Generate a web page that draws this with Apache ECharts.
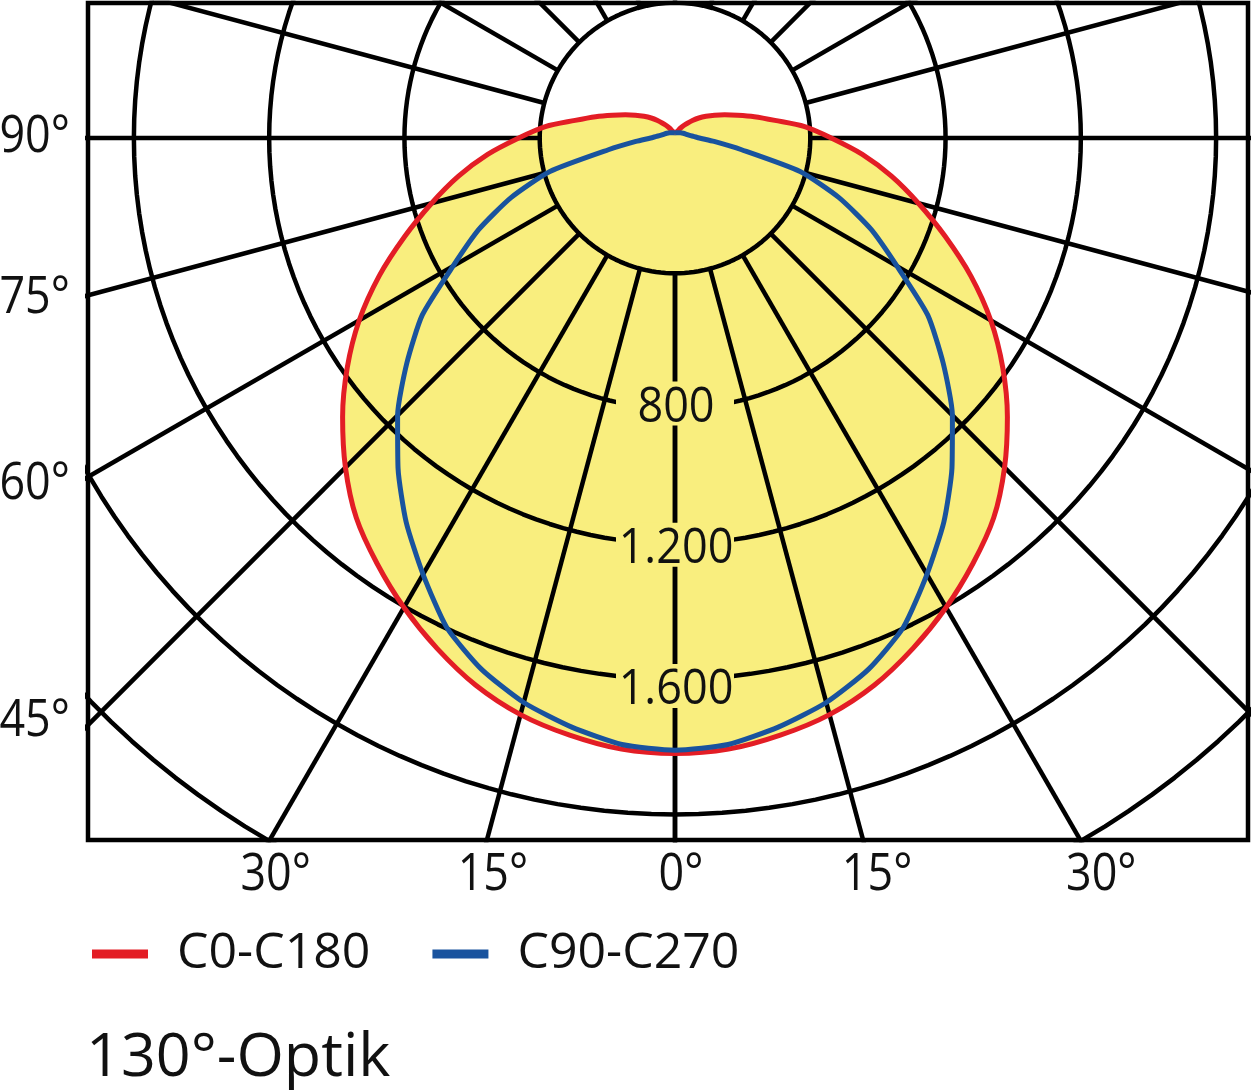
<!DOCTYPE html>
<html><head><meta charset="utf-8">
<script src="https://cdn.jsdelivr.net/npm/echarts@6/dist/echarts.min.js"></script>
<style>html,body{margin:0;padding:0;background:#fff}#c{width:1252px;height:1092px}</style>
</head><body><div id="c"></div>
<script>
// ---------------- data (candela, angle in degrees from nadir) ----------------
const RED_ANGLES  = [0,5,10,15,20,25,30,35,40,45,50,55,60,65,70,75,80,85,90,95,100,105,110,115,120,125,130,135,140,145,150,155,160,170,180];
const RED_VALUES  = [1820,1814,1793,1765,1722,1665,1603,1536,1466,1378,1283,1183,1078,965,850,745,650,556,462,385,300,243,197,162,135,112,92,73,57,45,35,27,22,17,16];
const BLUE_ANGLES = [0,5,10,15,20,25,30,35,40,45,50,55,60,65,70,75,80,85,90,95,100,110,120,135,150,165,180];
const BLUE_VALUES = [1810,1800,1768,1728,1672,1597,1490,1386,1274,1160,1035,912,758,640,516,383,200,116,72,55,44,34,28,22,18,16,15];
const RING_VALUES = [400,800,1200,1600,2000,2400];
const RING_LABEL_VALUES = [800,1200,1600];
const RING_LABELS = ['800','1.200','1.600'];
const SPOKE_ANGLES = [0,15,30,45,60,75,90,105,120,135,150,165,180];
const SIDE_TICKS = [90,75,60,45];
const SIDE_TICK_LABELS = ['90°','75°','60°','45°'];
const BOTTOM_TICKS = [-30,-15,0,15,30];
const BOTTOM_TICK_LABELS = ['30°','15°','0°','15°','30°'];
const SERIES_NAMES = ['C0-C180','C90-C270'];
const TITLE = '130°-Optik';

// ---------------- layout / style ----------------
const PLOT = {left:88, top:3, right:1248, bottom:840};
const CX = 675, CY = 138;      // pole of the diagram (px)
const K = 0.3382;              // px per cd
const XMIN = -(CX-PLOT.left)/K, XMAX = (PLOT.right-CX)/K;
const YMAX = (CY-PLOT.top)/K,  YMIN = -(PLOT.bottom-CY)/K;
const FONT = '"Open Sans", "Noto Sans", sans-serif';
const YELLOW = '#F9EE7E', RED = '#E31D25', BLUE = '#19539E', INK = '#111111';
const GRID_W = 4.5, CURVE_W = 5;
const RING_LABEL_SHIFT = [-5, 1, 7];
const SIDE_LABEL_DY = [-1, 3, 8, -4];
const BOTTOM_LABEL_DX = [6, 6, 6, 14, 21];

function polar(a, v, side){ const r = a*Math.PI/180; return [side*v*Math.sin(r), -v*Math.cos(r)]; }
function loop(angles, values){
  const pts = [];
  for (let i = angles.length-1; i >= 0; i--) pts.push(polar(angles[i], values[i], -1));
  for (let i = 1; i < angles.length; i++) pts.push(polar(angles[i], values[i], 1));
  return pts;
}
const redLoop = loop(RED_ANGLES, RED_VALUES);
const blueLoop = loop(BLUE_ANGLES, BLUE_VALUES);

const series = [];
// yellow area of C0-C180
series.push({
  type:'custom', z:1, silent:true, data:[[0,0]],
  renderItem:(p, api) => ({type:'polygon', shape:{points: redLoop.map(pt => api.coord(pt)), smooth:0.3}, style:{fill:YELLOW}})
});
// rings
RING_VALUES.forEach(v => {
  const d = [];
  for (let t = 0; t <= 360; t += 2) d.push(polar(t, v, 1));
  series.push({type:'line', data:d, z:2, silent:true, showSymbol:false, symbol:'none', clip:true,
    lineStyle:{color:'#000', width:GRID_W}});
});
// spokes
SPOKE_ANGLES.forEach(a => [-1,1].forEach(s => {
  series.push({type:'line', data:[polar(a, RING_VALUES[0], s), polar(a, 6000, s)], z:2, silent:true,
    showSymbol:false, symbol:'none', clip:true, lineStyle:{color:'#000', width:GRID_W}});
}));
// ring value labels
series.push({
  type:'custom', z:3, silent:true, data: RING_LABEL_VALUES.map(v => [0, -v]),
  renderItem:(p, api) => {
    const pt = api.coord([api.value(0), api.value(1)]);
    const cy = pt[1] + RING_LABEL_SHIFT[p.dataIndex];
    return {type:'group', children:[
      {type:'rect', shape:{x:pt[0]-59, y:cy-22, width:118, height:44}, style:{fill:YELLOW}},
      {type:'text', x:pt[0]+1, y:cy+4, scaleX:0.9, style:{text:RING_LABELS[p.dataIndex], font:'50px '+FONT, fill:INK, align:'center', verticalAlign:'middle'}}
    ]};
  }
});
// side angle labels
series.push({
  type:'custom', z:3, silent:true, data: SIDE_TICKS.map(a => [XMIN, -(-XMIN/Math.sin(a*Math.PI/180))*Math.cos(a*Math.PI/180)]),
  renderItem:(p, api) => {
    const pt = api.coord([api.value(0), api.value(1)]);
    return {type:'text', x:pt[0]-18, y:pt[1]+SIDE_LABEL_DY[p.dataIndex], scaleX:0.88, style:{text:SIDE_TICK_LABELS[p.dataIndex], font:'51px '+FONT, fill:INK, align:'right', verticalAlign:'middle'}};
  }
});
// bottom angle labels
series.push({
  type:'custom', z:3, silent:true, data: BOTTOM_TICKS.map(t => { const a = Math.abs(t)*Math.PI/180; return [Math.sign(t)*(-YMIN/Math.cos(a))*Math.sin(a), YMIN]; }),
  renderItem:(p, api) => {
    const pt = api.coord([api.value(0), api.value(1)]);
    return {type:'text', x:pt[0]+BOTTOM_LABEL_DX[p.dataIndex], y:pt[1]+35, scaleX:0.88, style:{text:BOTTOM_TICK_LABELS[p.dataIndex], font:'51px '+FONT, fill:INK, align:'center', verticalAlign:'middle'}};
  }
});
// curves
series.push({name:SERIES_NAMES[0], type:'line', data:redLoop, z:5, showSymbol:false, symbol:'none', clip:false, smooth:0.3,
  lineStyle:{color:RED, width:CURVE_W, join:'round'}, itemStyle:{color:RED}});
series.push({name:SERIES_NAMES[1], type:'line', data:blueLoop, z:6, showSymbol:false, symbol:'none', clip:false, smooth:0.2,
  lineStyle:{color:BLUE, width:CURVE_W, join:'round'}, itemStyle:{color:BLUE}});

const chart = echarts.init(document.getElementById('c'));
chart.setOption({
  animation:false,
  backgroundColor:'#fff',
  title:{text:TITLE, left:86, top:1028, padding:0, textStyle:{fontSize:61, fontWeight:'normal', fontFamily:FONT, color:INK}},
  legend:{data:SERIES_NAMES, left:92, top:929, padding:0, icon:'rect', itemWidth:56, itemHeight:9, itemGap:62,
    selectedMode:false, textStyle:{fontSize:50, fontFamily:FONT, color:INK, padding:[0,0,0,24]}},
  grid:{show:true, left:PLOT.left, top:PLOT.top, width:PLOT.right-PLOT.left, height:PLOT.bottom-PLOT.top,
    borderColor:'#000', borderWidth:GRID_W, backgroundColor:'transparent'},
  xAxis:{type:'value', min:XMIN, max:XMAX, show:false},
  yAxis:{type:'value', min:YMIN, max:YMAX, show:false},
  series
});
</script></body></html>
